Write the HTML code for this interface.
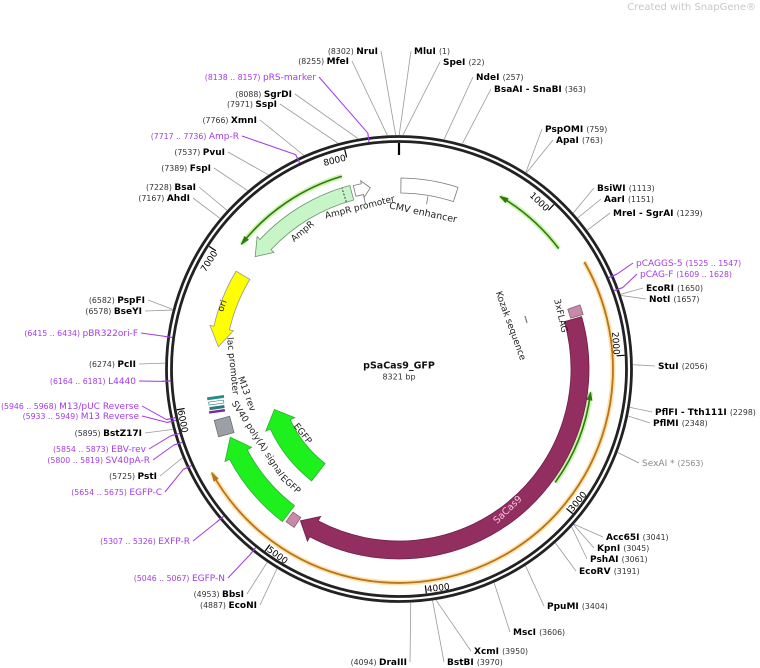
<!DOCTYPE html>
<html><head><meta charset="utf-8"><style>
html,body{margin:0;padding:0;background:#fff;width:760px;height:668px;overflow:hidden}
svg text{font-family:"DejaVu Sans","Liberation Sans",sans-serif}
</style></head><body>
<svg id="s" width="760" height="668" viewBox="0 0 760 668" xmlns="http://www.w3.org/2000/svg">
<text x="756" y="10" text-anchor="end" font-size="10" fill="#c8c8c8">Created with SnapGene®</text>
</svg>
<script>
var S=document.getElementById('s'),NS='http://www.w3.org/2000/svg';
var cx=399,cy=369,N=8321;
function el(t,a,p){var e=document.createElementNS(NS,t);for(var k in a)e.setAttribute(k,a[k]);(p||S).appendChild(e);return e;}
function pt(r,a){a=a*Math.PI/180;return [cx+r*Math.sin(a),cy-r*Math.cos(a)];}
function P(p){return p[0].toFixed(2)+' '+p[1].toFixed(2);}
function deg(p){return p*360/N;}
function arcD(r,a1,a2,sweep){var l=Math.abs(a2-a1)>180?1:0;return 'A'+r+' '+r+' 0 '+l+' '+sweep+' '+P(pt(r,a2));}
function band(a1,a2,r1,r2,head,h,ex,fill,stroke,sw){
  var b1=a1,b2=a2;if(head==='end')b2=a2-h;if(head==='start')b1=a1+h;
  var rm=(r1+r2)/2,d='M'+P(pt(r2,b1))+arcD(r2,b1,b2,1);
  if(head==='end'){d+='L'+P(pt(r2+ex,b2))+'L'+P(pt(rm,a2))+'L'+P(pt(r1-ex,b2));}
  d+='L'+P(pt(r1,b2))+arcD(r1,b2,b1,0);
  if(head==='start'){d+='L'+P(pt(r1-ex,b1))+'L'+P(pt(rm,a1))+'L'+P(pt(r2+ex,b1));}
  d+='Z';el('path',{d:d,fill:fill,stroke:stroke,'stroke-width':sw||0.8});
}
function thinArc(a1,a2,r,head,col,halo,w){
  var d='M'+P(pt(r,a1))+arcD(r,a1,a2,1);
  el('path',{d:d,fill:'none',stroke:halo,'stroke-width':5,'stroke-opacity':0.7});
  el('path',{d:d,fill:'none',stroke:col,'stroke-width':w||1.6});
  var a=head==='end'?a2:a1,s=head==='end'?-1:1,h=2.2;
  var p1=pt(r+2.5,a+s*h),p2=pt(r,a),p3=pt(r-2.5,a+s*h);
  el('path',{d:'M'+P(p1)+'L'+P(p2)+'L'+P(p3)+'Z',fill:col,stroke:col,'stroke-width':0.8});
}
thinArc(60,241,214,'end','#b8741a','#fcd68a',1.8);
thinArc(-51.6,-16.5,201,'start','#2f7a10','#b4ee88');
thinArc(30.4,53,200,'start','#2f7a10','#b4ee88');
thinArc(97,126,193,'start','#2f7a10','#b4ee88');
thinArc(153,193,185,'start','#2f7a10','#b4ee88');
band(0.6,18,176,191,null,0,0,'#fff','#777');
var t=pt(175,9.5),t2=pt(167,9.5);el('line',{x1:t[0],y1:t[1],x2:t2[0],y2:t2[1],stroke:'#777','stroke-width':0.8});
band(-14,-9,178,189,'end',2.5,3,'#fff','#777');
var u1=pt(177,-11.5),u2=pt(168,-11.5);el('line',{x1:u1[0],y1:u1[1],x2:u2[0],y2:u2[1],stroke:'#777','stroke-width':0.8});
band(-52,-15,175,190,'start',5,4,'#c8f5c8','#6a946a');
var q1=pt(175,-17.5),q2=pt(190,-17.5);el('line',{x1:q1[0],y1:q1[1],x2:q2[0],y2:q2[1],stroke:'#444','stroke-width':1,'stroke-dasharray':'2 1.5'});
band(-83,-59,174,190,'start',6,4,'#ffff00','#999');
band(-142.6,-112,172,192,'end',6,5,'#1ef01e','#3a3');
band(-142,-108,120,142,'end',7,5,'#1ef01e','#3a3');
band(74,213,172,190,'end',5,5,'#922e60','#702048');
band(-146.5,-143.5,178,190,null,0,0,'#c98aaa','#866');
band(70.5,73.5,179,192,'end',0,0,'#c98aaa','#866');
(function(){var g=el('g',{transform:'translate(217,404) rotate(-8)'});
el('rect',{x:-9,y:-8,width:17,height:3,fill:'#2a8a8a'},g);el('rect',{x:-8,y:-3,width:15,height:3,fill:'#fff',stroke:'#2a7a7a','stroke-width':0.6},g);
el('rect',{x:-8,y:2,width:15,height:3,fill:'#2a7a7a'},g);el('rect',{x:-9,y:6,width:16,height:2.5,fill:'#7a2aa0'},g);
var g2=el('g',{transform:'translate(224,426) rotate(-15)'});el('rect',{x:-8,y:-8,width:16,height:17,fill:'#9aa0a6',stroke:'#666','stroke-width':0.7},g2);})();
el('line',{x1:525,y1:316,x2:527,y2:323,stroke:'#777','stroke-width':1.2});
el('circle',{cx:cx,cy:cy,r:232.5,fill:'none',stroke:'#222','stroke-width':2.8});
el('circle',{cx:cx,cy:cy,r:227.5,fill:'none',stroke:'#222','stroke-width':2.8});
var a0=pt(226,0),a1=pt(214,0);el('line',{x1:a0[0],y1:a0[1],x2:a1[0],y2:a1[1],stroke:'#000','stroke-width':2.2});
for(var k=1;k<=8;k++){var a=deg(k*1000),p1=pt(226,a),p2=pt(218,a);
 el('line',{x1:p1[0],y1:p1[1],x2:p2[0],y2:p2[1],stroke:'#000','stroke-width':1.2});
 var up=(a<90||a>270),tp,tt;
 if(up){tp=pt(215,a);tt=el('text',{x:0,y:0,'font-size':9,'text-anchor':'end',transform:'translate('+tp[0]+','+tp[1]+') rotate('+a+') translate(-1,0)'});}
 else{tp=pt(226,a);tt=el('text',{x:0,y:0,'font-size':9,'text-anchor':'start',transform:'translate('+tp[0]+','+tp[1]+') rotate('+(a-180)+') translate(1,-1)'});}
 tt.textContent=k*1000;}
function lab(txt,x,y,rot,fs,col,w){var e=el('text',{x:0,y:0,'font-size':fs||9,'text-anchor':'middle','dominant-baseline':'central',fill:col||'#222','font-weight':w||'normal',transform:'translate('+x+','+y+') rotate('+rot+')'});e.textContent=txt;}
lab('CMV enhancer',423,213,12,9.5);
lab('AmpR promoter',360,208,-14,9);
lab('AmpR',303,232,-40,9);
lab('ori',223,306,-70,9);
lab('lac promoter',232,366,84,9);
lab('M13 rev',246,394,70,9);
lab('SV40 poly(A) signal',257,439,57,9);
lab('EGFP',290,485,42,9);
lab('EGFP',302,434,52,9);
lab('SaCas9',508,510,-44,9.5,'#f5c6de');
lab('3xFLAG',560,316,77,9);
lab('Kozak sequence',510,326,70,9);
lab('pSaCas9_GFP',399,366,0,9.5,'#111','bold');
lab('8321 bp',399,377,0,8,'#333');
var PU='#a33be6';
var L=[
[8302,'(8302)','NruI',378,54,'L'],[8255,'(8255)','MfeI',349,64,'L'],[8147,'(8138 .. 8157)','pRS-marker',316,80,'L','p'],
[8088,'(8088)','SgrDI',292,97,'L'],[7971,'(7971)','SspI',277,107,'L'],[7766,'(7766)','XmnI',257,123,'L'],
[7726,'(7717 .. 7736)','Amp-R',239,139,'L','p'],[7537,'(7537)','PvuI',225,155,'L'],[7389,'(7389)','FspI',211,171,'L'],
[7228,'(7228)','BsaI',196,190,'L'],[7167,'(7167)','AhdI',190,201,'L'],[6582,'(6582)','PspFI',145,303,'L'],
[6578,'(6578)','BseYI',142,314,'L'],[6424,'(6415 .. 6434)','pBR322ori-F',138,336,'L','p'],[6274,'(6274)','PcII',136,367,'L'],
[6172,'(6164 .. 6181)','L4440',136,384,'L','p'],[5957,'(5946 .. 5968)','M13/pUC Reverse',139,409,'L','p'],
[5941,'(5933 .. 5949)','M13 Reverse',139,419,'L','p'],[5895,'(5895)','BstZ17I',142,436,'L'],
[5863,'(5854 .. 5873)','EBV-rev',146,452,'L','p'],[5809,'(5800 .. 5819)','SV40pA-R',150,463,'L','p'],
[5725,'(5725)','PstI',157,479,'L'],[5664,'(5654 .. 5675)','EGFP-C',162,495,'L','p'],
[5316,'(5307 .. 5326)','EXFP-R',190,544,'L','p'],[5056,'(5046 .. 5067)','EGFP-N',225,581,'L','p'],
[4953,'(4953)','BbsI',244,597,'L'],[4887,'(4887)','EcoNI',257,608,'L'],[4094,'(4094)','DraIII',407,665,'L'],
[1,'(1)','MluI',414,54,'R'],[22,'(22)','SpeI',443,65,'R'],[257,'(257)','NdeI',476,80,'R'],
[363,'(363)','BsaAI - SnaBI',494,92,'R'],[759,'(759)','PspOMI',545,132,'R'],[763,'(763)','ApaI',556,143,'R'],
[1113,'(1113)','BsiWI',597,191,'R'],[1151,'(1151)','AarI',604,202,'R'],[1239,'(1239)','MreI - SgrAI',613,216,'R'],
[1536,'(1525 .. 1547)','pCAGGS-5',636,266,'R','p'],[1618,'(1609 .. 1628)','pCAG-F',640,277,'R','p'],
[1650,'(1650)','EcoRI',646,291,'R'],[1657,'(1657)','NotI',649,302,'R'],[2056,'(2056)','StuI',658,369,'R'],
[2298,'(2298)','PflFI - Tth111I',655,415,'R'],[2348,'(2348)','PflMI',653,426,'R'],[2563,'(2563)','SexAI *',642,466,'R','g'],
[3041,'(3041)','Acc65I',606,540,'R'],[3045,'(3045)','KpnI',597,551,'R'],[3061,'(3061)','PshAI',590,562,'R'],
[3191,'(3191)','EcoRV',579,574,'R'],[3404,'(3404)','PpuMI',547,609,'R'],[3606,'(3606)','MscI',513,635,'R'],
[3950,'(3950)','XcmI',474,654,'R'],[3970,'(3970)','BstBI',447,665,'R']];
L.forEach(function(o){var a=deg(o[0]),p=pt(234,a),purple=o[6]==='p',gray=o[6]==='g';
 var col=purple?PU:(gray?'#888':'#999');
 var lx=o[5]==='L'?o[3]+3:o[3]-3,ly=o[4]-3;
 if(purple){var pi=pt(229,a),po=pt(238,a);el('line',{x1:pi[0],y1:pi[1],x2:po[0],y2:po[1],stroke:PU,'stroke-width':1.2});p=po;}
 el('line',{x1:p[0],y1:p[1],x2:lx,y2:ly,stroke:col,'stroke-width':purple?1:0.8});
 var nc=purple?PU:(gray?'#888':'#000'),cc=purple?PU:(gray?'#888':'#333'),nw=(purple||gray)?'normal':'bold';
 var tx=el('text',{x:o[3],y:o[4],'text-anchor':o[5]==='L'?'end':'start','xml:space':'preserve'});
 function ts(s,fs,c,w){var e=el('tspan',{'font-size':fs,fill:c,'font-weight':w},tx);e.textContent=s;}
 if(o[5]==='L'){ts(o[1]+' ',7.8,cc,'normal');ts(o[2],9,nc,nw);}
 else{ts(o[2]+' ',9,nc,nw);ts(o[1],7.8,cc,'normal');}
});
</script>
</body></html>
